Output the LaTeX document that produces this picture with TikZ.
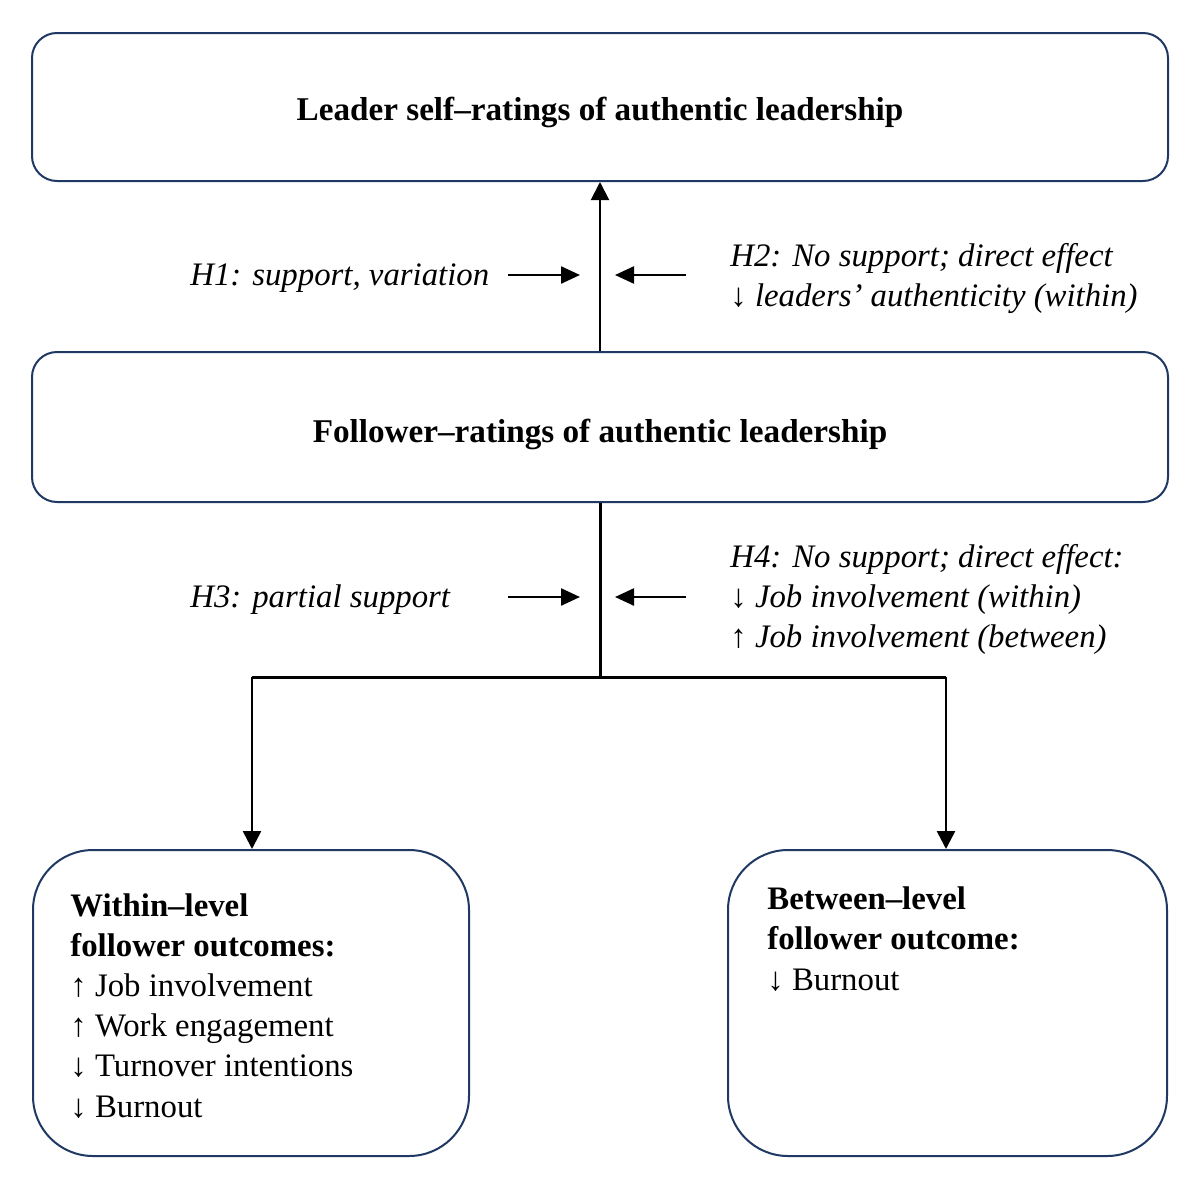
\documentclass[tikz,border=0pt]{standalone}
\usepackage{fontspec}
\setmainfont{Liberation Serif}
\usetikzlibrary{arrows.meta}
\definecolor{navy}{HTML}{1F3864}
\tikzset{
  box/.style={draw=navy, line width=1pt, fill=white, inner sep=0pt},
  conn/.style={line width=1pt, -{Triangle[length=9pt,width=9pt]}},
  trunk/.style={line width=1.5pt},
  side/.style={line width=1.2pt, -{Triangle[length=9.5pt,width=8.5pt]}},
  lbl/.style={font=\fontsize{16.4pt}{20pt}\selectfont\itshape, inner sep=0pt, anchor=base west, align=left},
  body/.style={font=\fontsize{16.4pt}{20.1pt}\selectfont, inner sep=0pt, anchor=base west, align=left},
  ttl/.style={font=\fontsize{16.6pt}{20pt}\selectfont\bfseries, inner sep=0pt}
}
\begin{document}
\begin{tikzpicture}[x=0.5pt,y=-0.5pt]
\useasboundingbox[fill=white] (0,0) rectangle (1200,1189);
% boxes
\node[box, rounded corners=12.5pt, minimum width=568pt, minimum height=74pt] (top) at (600,107) {};
\node[box, rounded corners=12.5pt, minimum width=568pt, minimum height=75pt] (mid) at (600,427) {};
\node[box, rounded corners=30pt, minimum width=218pt, minimum height=153pt] (bl) at (251,1003) {};
\node[box, rounded corners=30pt, minimum width=219.5pt, minimum height=153pt] (br) at (947.5,1003) {};
% titles
\node[ttl, anchor=base] (toptxt) at (600,120) {Leader self–ratings of authentic leadership};
\node[ttl, anchor=base] (midtxt) at (600,442) {Follower–ratings of authentic leadership};
% bottom texts
\node[body] (bltxt) at (70,1117)
{\textbf{Within–level}\\ \textbf{follower outcomes:}\\ ↑ Job involvement\\ ↑ Work engagement\\ ↓ Turnover intentions\\ ↓ Burnout};
\node[body] (brtxt) at (767,990)
{\textbf{Between–level}\\ \textbf{follower outcome:}\\ ↓ Burnout};
% labels
\node[lbl] (h1) at (190,285) {H1: support, variation};
\node[lbl] (h2) at (730,306) {H2: No support; direct effect\\ {\upshape ↓} leaders’ authenticity (within)};
\node[lbl] (h3) at (190,607) {H3: partial support};
\node[lbl] (h4) at (730,647) {H4: No support; direct effect:\\ {\upshape ↓} Job involvement (within)\\ {\upshape ↑} Job involvement (between)};
% connectors
\draw[conn] (mid.north) -- (top.south);
\coordinate (j) at (600,677);
\coordinate (jl) at (252,677);
\coordinate (jr) at (946,677);
\draw[trunk] (mid.south) -- (j);
\draw[trunk] (jl) -- (jr);
\draw[conn, line width=1.3pt] (jl) -- (jl |- bl.north);
\draw[conn, line width=1.3pt] (jr) -- (jr |- br.north);
% side arrows
\coordinate (a1s) at (508,275); \coordinate (a1e) at (580,275);
\coordinate (a2s) at (686,275); \coordinate (a2e) at (615,275);
\coordinate (a3s) at (508,597); \coordinate (a3e) at (580,597);
\coordinate (a4s) at (686,597); \coordinate (a4e) at (615,597);
\draw[side] (a1s) -- (a1e);
\draw[side] (a2s) -- (a2e);
\draw[side] (a3s) -- (a3e);
\draw[side] (a4s) -- (a4e);
\end{tikzpicture}
\end{document}
